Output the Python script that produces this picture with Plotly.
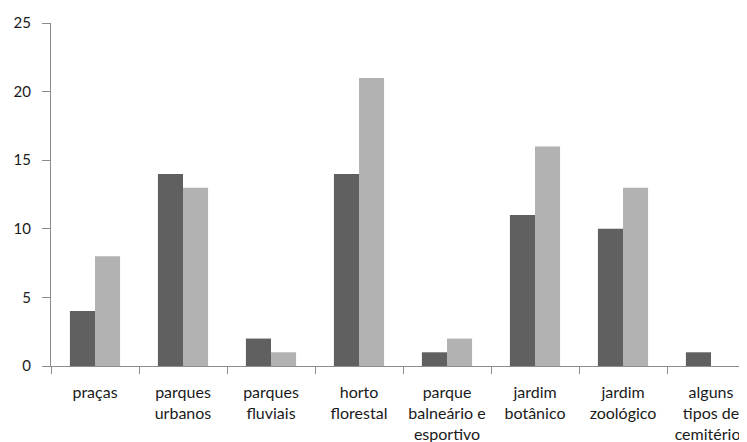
import plotly.graph_objects as go

categories = ["praças", "parques<br>urbanos", "parques<br>fluviais", "horto<br>florestal",
              "parque<br>balneário e<br>esportivo", "jardim<br>botânico", "jardim<br>zoológico",
              "alguns<br>tipos de<br>cemitérios"]
series_dark = [4, 14, 2, 14, 1, 11, 10, 1]
series_light = [8, 13, 1, 21, 2, 16, 13, None]
y_ticks = [0, 5, 10, 15, 20, 25]

fig = go.Figure()
fig.add_trace(go.Bar(x=categories, y=series_dark, marker=dict(color="#606060", line=dict(width=0)),
                     showlegend=False))
fig.add_trace(go.Bar(x=categories, y=series_light, marker=dict(color="#b2b2b2", line=dict(width=0)),
                     showlegend=False))

yfont = dict(family="Lato, Open Sans, sans-serif", size=15, color="#1a1a1a")
xfont = dict(family="Lato, Open Sans, sans-serif", size=16, color="#1a1a1a")
fig.update_layout(
    width=747, height=442,
    margin=dict(l=43, r=0, t=15, b=84, autoexpand=False),
    plot_bgcolor="white", paper_bgcolor="white",
    barmode="group", bargap=0.43, bargroupgap=0,
    font=yfont,
    xaxis=dict(type="category", range=[-0.5, 7.5], automargin=False,
               showline=True, linecolor="#8c8c8c", linewidth=1,
               ticks="outside", tickson="boundaries", ticklen=7, tickcolor="#8c8c8c",
               showgrid=False, tickfont=xfont, ticklabelstandoff=12),
    yaxis=dict(range=[0, 25], tickvals=y_ticks, showline=True, linecolor="#8c8c8c", linewidth=1,
               automargin=False,
               ticks="outside", ticklen=8, tickcolor="#8c8c8c", showgrid=False, zeroline=False,
               tickfont=yfont, ticklabelstandoff=8),
)
fig.write_html("out.html")
